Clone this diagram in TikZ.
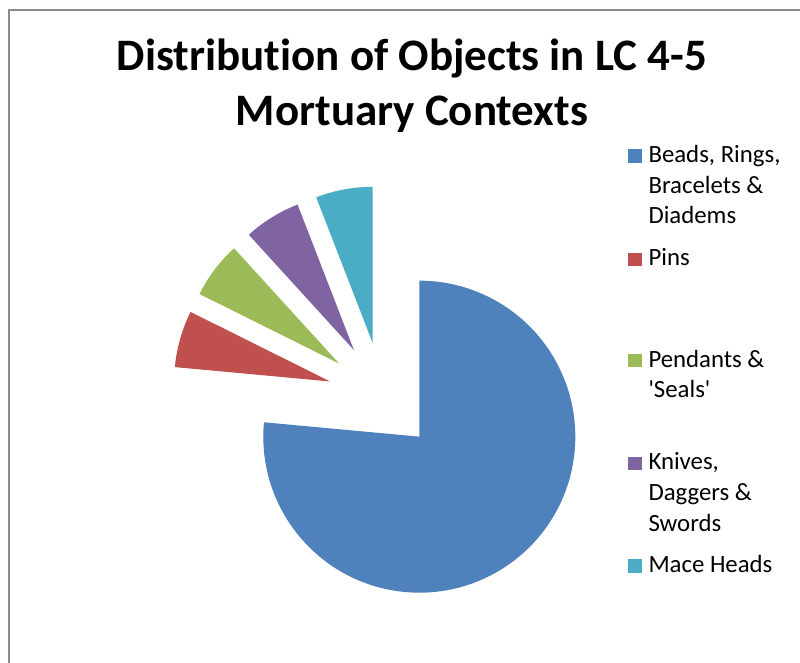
\documentclass[tikz,border=0pt]{standalone}
\usepackage{fontspec}
\setmainfont{Carlito}
\definecolor{cblue}{HTML}{4F81BD}
\definecolor{cred}{HTML}{C0504D}
\definecolor{cgreen}{HTML}{9BBB59}
\definecolor{cpurple}{HTML}{8064A2}
\definecolor{caqua}{HTML}{4BACC6}
\definecolor{framegray}{HTML}{8C8C8C}
\newcommand\myslice[4]{%
  \fill[#1, shift={(#4:54.5)}] (382.6,266.6) -- ++(#2:156) arc[start angle=#2, end angle=#3, radius=156] -- cycle;}
\newcommand\mysquare[2]{\fill[#1] (628.3,#2) rectangle ++(13.4,13.4);}
\tikzset{
  legtext/.style={anchor=base west, align=left, inner sep=0pt, font=\fontsize{24.8}{30.6}\selectfont},
  titletext/.style={anchor=base, align=center, inner sep=0pt, font=\fontsize{45}{55}\selectfont\bfseries\addfontfeatures{Ligatures=NoCommon}}
}
\begin{document}
\begin{tikzpicture}[x=1pt,y=1pt]
\useasboundingbox (0,0) rectangle (800,663);
\fill[white] (0,0) rectangle (800,663);
\draw[framegray, line width=1.5pt] (9,0) -- (9,653) -- (800,653);
\node[titletext] (title) at (412,537) {Distribution of Objects in LC 4-5\\Mortuary Contexts};
% pie slices
\myslice{cblue}{-185.29}{90}{-47.65}
\myslice{cred}{153.53}{174.71}{164.12}
\myslice{cgreen}{132.35}{153.53}{142.94}
\myslice{cpurple}{111.18}{132.35}{121.76}
\myslice{caqua}{90}{111.18}{100.59}
% legend
\mysquare{cblue}{500.3}
\node[legtext] (l1) at (648.3,439.1) {Beads, Rings,\\Bracelets \&\\Diadems};
\mysquare{cred}{397}
\node[legtext] (l2) at (648.3,397) {Pins};
\mysquare{cgreen}{295.7}
\node[legtext] (l3) at (648.3,265.1) {Pendants \&\\\textquotesingle Seals\textquotesingle};
\mysquare{cpurple}{193}
\node[legtext] (l4) at (648.3,131.8) {Knives,\\Daggers \&\\Swords};
\mysquare{caqua}{90.3}
\node[legtext] (l5) at (648.3,90.3) {Mace Heads};
\end{tikzpicture}
\end{document}
